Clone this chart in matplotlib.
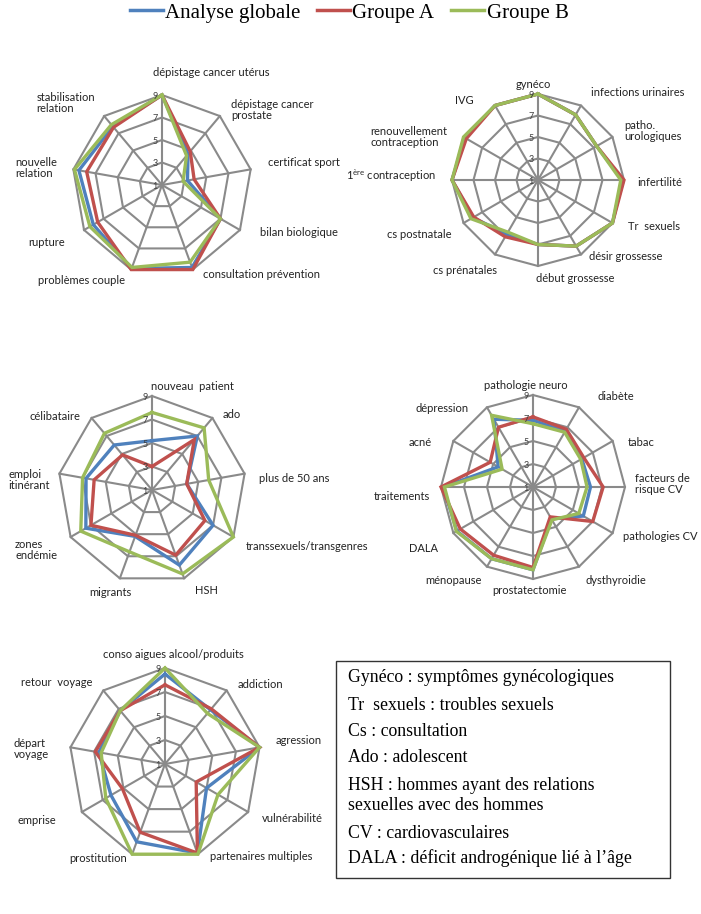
import numpy as np
import matplotlib.pyplot as plt
from matplotlib.lines import Line2D
from matplotlib.patches import Rectangle

plt.rcParams['font.family'] = ['Lato', 'DejaVu Sans']
plt.rcParams['mathtext.fontset'] = 'custom'
plt.rcParams['mathtext.rm'] = 'Lato'

W, H = 701, 914

# ---- data (scale 1..9) ----
series_names = ['Analyse globale', 'Groupe A', 'Groupe B']
series_colors = ['#4f81bd', '#c0504d', '#9bbb59']

c1_labels = ['dépistage cancer utérus', 'dépistage cancer\nprostate', 'certificat sport',
             'bilan biologique', 'consultation prévention', 'problèmes couple', 'rupture',
             'nouvelle\nrelation', 'stabilisation\nrelation']
c1_global = [9, 4.6, 3.3, 7.0, 8.8, 8.9, 8.05, 8.5, 7.8]
c1_a = [9, 4.9, 3.9, 7.0, 9.0, 9.0, 7.6, 7.8, 7.7]
c1_b = [9, 4.4, 2.9, 7.0, 8.3, 8.8, 8.4, 8.9, 8.0]

c2_labels = ['gynéco', 'infections urinaires', 'patho.\nurologiques', 'infertilité',
             'Tr  sexuels', 'désir grossesse', 'début grossesse', 'cs prénatales',
             'cs postnatale', r'1$^{\rm ère}$ contraception', 'renouvellement\ncontraception', 'IVG']
c2_global = [9, 8.0, 7.3, 8.85, 9.0, 8.1, 7.0, 6.8, 8.0, 9, 8.85, 9]
c2_a = [9, 8.0, 7.3, 9.0, 9.0, 8.1, 7.0, 7.1, 7.9, 9, 8.7, 9]
c2_b = [9, 8.0, 7.3, 8.7, 9.0, 8.1, 7.0, 6.6, 8.2, 9, 9.0, 9]

c3_labels = ['nouveau  patient', 'ado', 'plus de 50 ans', 'transsexuels/transgenres', 'HSH',
             'migrants', 'zones\nendémie', 'emploi\nitinérant', 'célibataire']
c3_global = [5.2, 7.0, 4.0, 7.0, 7.8, 5.2, 7.5, 6.7, 6.0]
c3_a = [3.0, 6.6, 4.0, 6.2, 6.9, 5.1, 7.0, 6.0, 4.9]
c3_b = [7.6, 7.9, 5.9, 9.0, 8.6, 6.6, 8.0, 7.0, 7.3]

c4_labels = ['pathologie neuro', 'diabète', 'tabac', 'facteurs de\nrisque CV', 'pathologies CV',
             'dysthyroidie', 'prostatectomie', 'ménopause', 'DALA', 'traitements', 'acné',
             'dépression']
c4_global = [6.8, 6.6, 5.9, 6.0, 6.05, 4.2, 8.2, 8.2, 8.65, 8.8, 4.5, 7.8]
c4_a = [7.1, 6.8, 6.1, 7.1, 7.0, 4.0, 8.0, 7.85, 8.3, 9.0, 5.3, 7.0]
c4_b = [6.5, 6.5, 5.8, 5.7, 5.6, 4.3, 8.2, 8.2, 8.7, 8.7, 4.1, 8.2]

c5_labels = ['conso aigues alcool/produits', 'addiction', 'agression', 'vulnérabilité',
             'partenaires multiples', 'prostitution', 'emprise', 'départ\nvoyage',
             'retour  voyage']
c5_global = [8.5, 6.9, 9.0, 5.0, 8.9, 7.9, 6.2, 6.6, 6.8]
c5_a = [7.6, 7.0, 9.0, 4.0, 8.9, 7.05, 5.1, 6.9, 6.8]
c5_b = [9.0, 6.5, 9.0, 6.1, 9.0, 9.0, 6.7, 6.4, 6.8]

ring_values = [3, 5, 7, 9]
ring_ticks = [1, 3, 5, 7, 9]

glossary = ['Gynéco : symptômes gynécologiques',
            'Tr  sexuels : troubles sexuels',
            'Cs : consultation',
            'Ado : adolescent',
            'HSH : hommes ayant des relations',
            'sexuelles avec des hommes',
            'CV : cardiovasculaires',
            'DALA : déficit androgénique lié à l\u2019âge']

# ---- layout (pixels in the 701x914 image) ----
charts = [
    dict(center=(162, 185), radius=90, labels=c1_labels, data=[c1_global, c1_a, c1_b],
         anchors=[(153, 73, 'left'), (231, 110, 'left'), (268, 163, 'left'), (260, 233, 'left'),
                  (203, 275, 'left'), (125, 281, 'right'), (65, 242, 'right'),
                  (57, 168, 'right'), (95, 103, 'right')]),
    dict(center=(538, 180), radius=86, labels=c2_labels, data=[c2_global, c2_a, c2_b],
         anchors=[(533, 85, 'center'), (591, 93, 'left'), (624, 131, 'left'), (637, 182, 'left'),
                  (628, 227, 'left'), (589, 256, 'left'), (536, 278, 'left'), (497, 270, 'right'),
                  (451, 234, 'right'), (436, 176, 'right'), (447, 137, 'right'), (474, 100, 'right')]),
    dict(center=(152, 490), radius=94, labels=c3_labels, data=[c3_global, c3_a, c3_b],
         anchors=[(151, 386, 'left'), (223, 414, 'left'), (259, 478, 'left'), (246, 546, 'left'),
                  (195, 590, 'left'), (131, 592, 'right'), (57, 550, 'right'), (50, 480, 'right'),
                  (80, 417, 'right')]),
    dict(center=(533, 487), radius=92, labels=c4_labels, data=[c4_global, c4_a, c4_b],
         anchors=[(526, 385, 'center'), (597, 397, 'left'), (628, 443, 'left'), (635, 484, 'left'),
                  (623, 537, 'left'), (586, 581, 'left'), (529, 590, 'center'), (482, 581, 'right'),
                  (438, 548, 'right'), (430, 497, 'right'), (432, 443, 'right'), (469, 409, 'right')]),
    dict(center=(165, 764), radius=96, labels=c5_labels, data=[c5_global, c5_a, c5_b],
         anchors=[(173, 655, 'center'), (238, 684, 'left'), (276, 741, 'left'), (262, 818, 'left'),
                  (210, 856, 'left'), (127, 858, 'right'), (56, 820, 'right'), (49, 749, 'right'),
                  (92, 682, 'right')]),
]

grid_color = '#8a8a8a'


def fx(x):
    return x / W


def fy(y):
    return 1 - y / H


fig = plt.figure(figsize=(W / 100, H / 100), dpi=100)

for ch in charts:
    cx, cy = ch['center']
    R = ch['radius']
    ax = fig.add_axes([fx(cx - R), fy(cy + R), 2 * R / W, 2 * R / H], projection='polar')
    ax.set_theta_zero_location('N')
    ax.set_theta_direction(-1)
    ax.set_ylim(1, 9)
    ax.grid(False)
    ax.spines['polar'].set_visible(False)
    ax.set_xticks([])
    ax.set_yticks([])
    ax.patch.set_alpha(0)

    n = len(ch['labels'])
    theta = np.arange(n) * 2 * np.pi / n
    theta_c = np.append(theta, theta[0])

    # polygon grid + spokes
    for rv in ring_values:
        ax.plot(theta_c, [rv] * (n + 1), color=grid_color, lw=1.5, zorder=1, clip_on=False)
    for t in theta:
        ax.plot([t, t], [1, 9], color=grid_color, lw=1.5, zorder=1, clip_on=False)

    # series
    for vals, col in zip(ch['data'], series_colors):
        v = np.append(vals, vals[0])
        ax.plot(theta_c, v, color=col, lw=2.4, zorder=3, clip_on=False,
                solid_joinstyle='miter')

    # ring tick labels
    for rv in ring_ticks:
        ax.annotate(str(rv), xy=(0, rv), xytext=(-3, -1), textcoords='offset points',
                    ha='right', va='center', fontsize=6.5, color='#404040', zorder=4)

    # category labels
    for lab, (x, y, ha) in zip(ch['labels'], ch['anchors']):
        fig.text(fx(x), fy(y), lab, ha=ha, va='center', multialignment='left',
                 fontsize=8.0, color='#222222', linespacing=1.1)

# legend on top
handles = [Line2D([], [], color=c, lw=2.5) for c in series_colors]
fig.legend(handles, series_names, loc='center', bbox_to_anchor=(fx(349), fy(13)), ncol=3,
           frameon=False, handlelength=1.6, handletextpad=0.1, columnspacing=0.8,
           prop={'family': 'Liberation Serif', 'size': 15})

# glossary box
fig.patches.append(Rectangle((fx(336), fy(878)), (670 - 336) / W, (878 - 661) / H,
                             transform=fig.transFigure, fill=False, ec='#333333', lw=1.0))
gloss_y = [678, 705, 731, 758, 785, 805, 833, 858]
for txt, y in zip(glossary, gloss_y):
    fig.text(fx(348), fy(y), txt, ha='left', va='center', fontsize=12.8,
             family='Liberation Serif', color='black')

fig.savefig('out.png', dpi=100)
